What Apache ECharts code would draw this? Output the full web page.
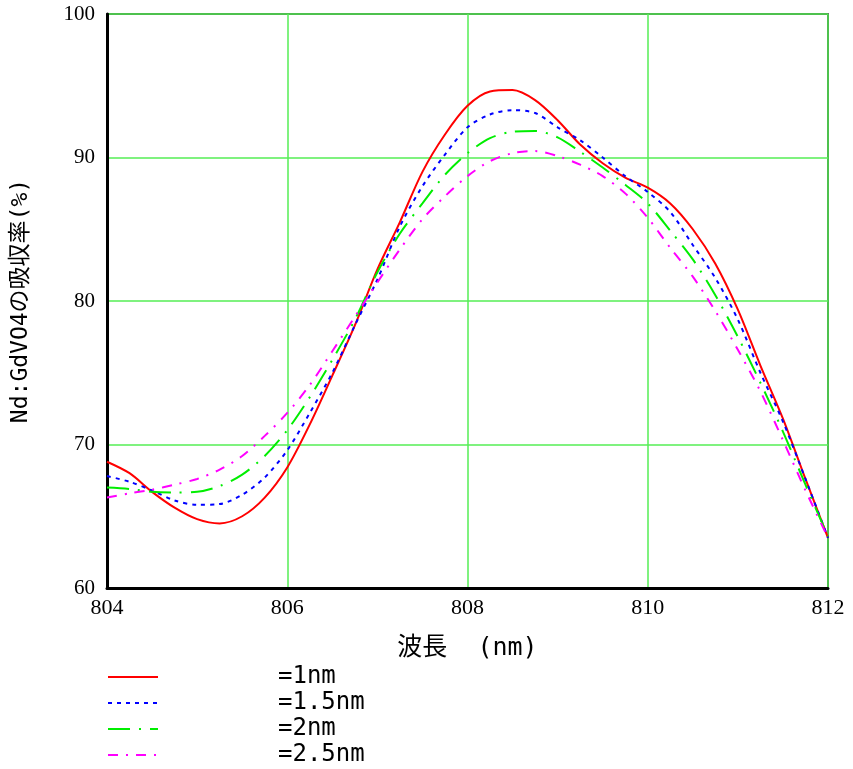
<!DOCTYPE html>
<html>
<head>
<meta charset="utf-8">
<script src="https://cdn.jsdelivr.net/npm/echarts@6/dist/echarts.min.js"></script>
<style>
  html, body { margin: 0; padding: 0; background: #fff; }
  #chart { width: 853px; height: 769px; }
</style>
</head>
<body>
<div id="chart"></div>
<script>
// 波長 (nm)
var wavelength = [804, 804.25, 804.5, 804.75, 805, 805.25, 805.5, 805.75, 806, 806.25, 806.5, 806.75,
  807, 807.25, 807.5, 807.75, 808, 808.25, 808.5, 808.75, 809, 809.25, 809.5, 809.75,
  810, 810.25, 810.5, 810.75, 811, 811.25, 811.5, 811.75, 812]

var seriesNames = ['1nm', '1.5nm', '2nm', '2.5nm']

var abs1nm = [68.8, 68.0, 66.7, 65.6, 64.8, 64.5, 65.0, 66.3, 68.4, 71.4, 74.8, 78.3,
  82.2, 85.5, 89.0, 91.6, 93.6, 94.6, 94.7, 94.0, 92.6, 90.9, 89.6, 88.6,
  87.9, 86.8, 85.0, 82.6, 79.4, 75.5, 71.8, 67.6, 63.5]
var abs15nm = [67.8, 67.4, 66.8, 66.1, 65.8, 65.85, 66.5, 67.7, 69.6, 72.2, 75.0, 78.3,
  81.5, 85.2, 88.0, 90.2, 92.1, 93.0, 93.3, 93.1, 92.1, 91.2, 90.0, 88.7,
  87.6, 86.2, 83.9, 81.6, 78.7, 75.0, 71.6, 67.6, 63.5]
var abs2nm = [67.0, 66.9, 66.7, 66.65, 66.7, 67.1, 67.9, 69.2, 71.0, 73.3, 75.9, 78.7,
  82.0, 84.7, 86.8, 88.8, 90.3, 91.35, 91.8, 91.85, 91.4, 90.4, 89.3, 88.1,
  86.8, 84.9, 82.9, 80.4, 77.5, 74.3, 70.9, 67.2, 63.6]
var abs25nm = [66.3, 66.6, 66.85, 67.2, 67.6, 68.25, 69.2, 70.6, 72.2, 74.15, 76.5, 78.9,
  81.3, 83.6, 85.7, 87.3, 88.7, 89.75, 90.3, 90.45, 90.1, 89.5, 88.7, 87.5,
  85.8, 83.7, 81.7, 79.3, 76.6, 73.7, 70.3, 66.8, 63.5]

var xTicks = [804, 806, 808, 810, 812]
var yTicks = [60, 70, 80, 90, 100]

function pairs(ys) {
  return wavelength.map(function (x, i) { return [x, ys[i]] })
}

var chart = echarts.init(document.getElementById('chart'))

var monoFont = '"DejaVu Sans Mono", "Noto Sans CJK JP", sans-serif'
var gridColor = '#55ee55'

var styles = [
  { color: '#ff0000', type: 'solid' },
  { color: '#0000ff', type: [4, 5] },
  { color: '#00ee00', type: [22, 9, 2, 9] },
  { color: '#ff00ff', type: [10, 8, 2, 8] }
]
var values = [abs1nm, abs15nm, abs2nm, abs25nm]

var option = {
  animation: false,
  backgroundColor: '#fff',
  grid: {
    left: 107, right: 25, top: 14, bottom: 181,
    outerBoundsMode: 'none',
    containLabel: false,
    show: true, borderColor: '#000', borderWidth: 1.5
  },
  legend: {
    orient: 'vertical',
    left: 107,
    top: 665,
    padding: 0,
    height: 110,
    itemWidth: 50,
    itemHeight: 14,
    itemGap: 2,
    selectedMode: false,
    itemStyle: { opacity: 0 },
    data: seriesNames,
    formatter: function (name) { return '{s|}{t|=' + name + '}' },
    textStyle: {
      rich: {
        s: { width: 115 },
        t: { fontFamily: monoFont, fontSize: 24, lineHeight: 24, color: '#000' }
      }
    }
  },
  xAxis: {
    type: 'value',
    min: xTicks[0],
    max: xTicks[xTicks.length - 1],
    interval: 2,
    name: '波長  (nm)',
    nameLocation: 'middle',
    nameGap: 48,
    nameTextStyle: { fontFamily: monoFont, fontSize: 25, color: '#000' },
    axisLine: { show: true, lineStyle: { color: '#000', width: 3 } },
    axisTick: { show: false },
    axisLabel: {
      margin: 9,
      fontFamily: '"Liberation Serif", serif', fontSize: 22, color: '#000'
    },
    splitLine: { show: true, lineStyle: { color: gridColor, width: 1.5 } }
  },
  yAxis: {
    type: 'value',
    min: yTicks[0],
    max: yTicks[yTicks.length - 1],
    interval: 10,
    name: 'Nd:GdVO4の吸収率(%)',
    nameLocation: 'middle',
    nameGap: 74,
    nameTextStyle: { fontFamily: monoFont, fontSize: 23, color: '#000' },
    axisLine: { show: true, lineStyle: { color: '#000', width: 3 } },
    axisTick: { show: false },
    axisLabel: {
      margin: 12,
      fontFamily: '"Liberation Serif", serif', fontSize: 21, color: '#000'
    },
    splitLine: { show: true, lineStyle: { color: gridColor, width: 1.5 } }
  },
  series: seriesNames.map(function (name, i) {
    return {
      name: name,
      type: 'line',
      data: pairs(values[i]),
      smooth: 0.3,
      symbol: 'none',
      lineStyle: { color: styles[i].color, width: 2, type: styles[i].type },
      itemStyle: { color: styles[i].color }
    }
  })
}

chart.setOption(option)
</script>
</body>
</html>
